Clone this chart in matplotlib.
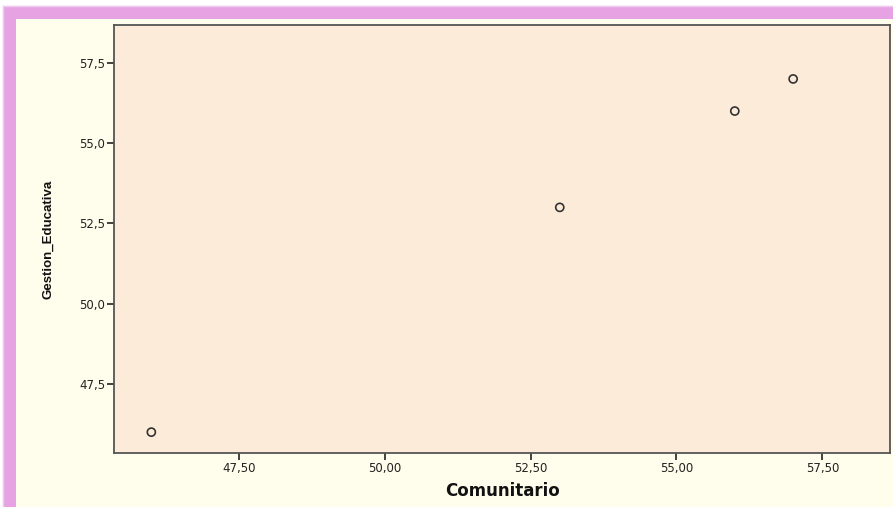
import matplotlib
matplotlib.use("Agg")
import matplotlib.pyplot as plt
from matplotlib.patches import Rectangle
from matplotlib.ticker import FuncFormatter

# data
comunitario = [46.0, 53.0, 56.0, 57.0]
gestion_educativa = [46.0, 53.0, 56.0, 57.0]

x_ticks = [47.5, 50.0, 52.5, 55.0, 57.5]
y_ticks = [47.5, 50.0, 52.5, 55.0, 57.5]

W, H = 893, 507

fig = plt.figure(figsize=(W / 100, H / 100), dpi=100)
fig.patch.set_facecolor("white")

# pink frame with a soft edge, then the cream panel inside it
for i, a in enumerate([0.2, 0.45, 0.75, 1.0]):
    off = 3 - i
    fig.patches.append(Rectangle(((5 - off) / W, 0), 1, (H - 8 + off) / H,
                                 transform=fig.transFigure, facecolor="#e6a2e2",
                                 edgecolor="none", alpha=a, zorder=-2))
fig.patches.append(Rectangle((16 / W, 0), 1, (H - 19) / H, transform=fig.transFigure,
                             facecolor="#fffdeb", edgecolor="none", zorder=-1))

ax = fig.add_axes([114 / W, 54 / H, 776 / W, 428 / H])
ax.set_zorder(5)
ax.set_facecolor("#fdebd9")
ax.scatter(comunitario, gestion_educativa, s=34, facecolors="none",
           edgecolors="#333333", linewidths=1.2, zorder=3)

ax.set_xlim(45.36, 58.66)
ax.set_ylim(45.35, 58.68)
ax.set_xticks(x_ticks)
ax.set_yticks(y_ticks)
ax.xaxis.set_major_formatter(FuncFormatter(lambda v, p: f"{v:.2f}".replace(".", ",")))
ax.yaxis.set_major_formatter(FuncFormatter(lambda v, p: f"{v:.1f}".replace(".", ",")))
ax.tick_params(axis="both", direction="out", length=4.7, width=1.3, color="#333333",
               labelsize=8.5, labelcolor="#222222", pad=1.5)

for s in ax.spines.values():
    s.set_color("#555555")
    s.set_linewidth(1.3)

ax.set_xlabel("Comunitario", fontsize=12, fontweight="bold", labelpad=5,
              color="#111111")
ax.set_ylabel("Gestion_Educativa", fontsize=9.5, fontweight="bold", labelpad=18,
              color="#111111", family=["Liberation Sans", "DejaVu Sans"])

fig.savefig("out.png", dpi=100)
